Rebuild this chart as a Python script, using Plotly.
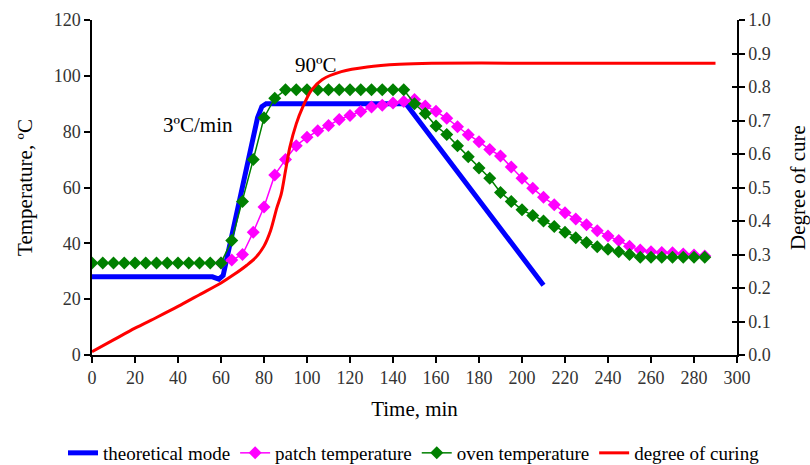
import plotly.graph_objects as go

# ---- data ----
theory_t = [0, 56, 59, 61, 77, 79, 81, 146, 210]
theory_T = [28, 28, 27.2, 28.5, 85, 89, 90, 90, 25]

oven_t = list(range(0, 295, 5))
oven_T = [33] * 13 + [41, 55, 70, 85, 92] + [95] * 12 + [
    90, 86.5, 82, 79, 75, 71, 67, 63.3, 58.2, 55, 52, 50, 48, 46, 44, 42,
    40.3, 38.8, 37.9, 37, 36, 35] + [35] * 6

patch_t = list(range(60, 290, 5))
patch_T = [33, 34, 36, 44, 53, 64.5, 70, 75, 78, 80.3, 82.2, 84.4, 85.8, 87.2,
           88.8, 89.5, 90.3, 90.8, 91.5, 89.2, 87.3, 84.8, 81.8, 78.9, 76.4,
           73.6, 71.3, 67.3, 63.3, 59.7, 56.5, 53.8, 51, 48.7, 46.7, 44.5,
           42.6, 41, 39, 37.6, 37, 36.7, 36.6, 36.2, 35.8, 35.5]

cure_t = [0, 10, 20, 30, 40, 50, 60, 66, 72, 76, 80, 83, 86, 88, 90, 92, 95,
          98, 102, 107, 116, 128, 143, 158, 200, 250, 290]
cure_v = [0.01, 0.045, 0.08, 0.112, 0.145, 0.18, 0.215, 0.24, 0.268, 0.29,
          0.325, 0.37, 0.44, 0.48, 0.55, 0.62, 0.69, 0.74, 0.79, 0.822, 0.846,
          0.86, 0.868, 0.871, 0.871, 0.871, 0.871]

x_ticks = list(range(0, 301, 20))
y_ticks = list(range(0, 121, 20))
y2_ticks = [i / 10 for i in range(11)]

FONT = "Liberation Serif"
TICKCOL = "#333333"

fig = go.Figure()
fig.add_trace(go.Scatter(x=theory_t, y=theory_T, mode="lines",
                         name="theoretical mode",
                         line=dict(color="#0000FF", width=5)))
fig.add_trace(go.Scatter(x=patch_t, y=patch_T, mode="lines+markers",
                         name="patch temperature",
                         line=dict(color="#FF00FF", width=1.5),
                         marker=dict(symbol="diamond", size=10, color="#FF00FF")))
fig.add_trace(go.Scatter(x=oven_t, y=oven_T, mode="lines+markers",
                         name="oven temperature",
                         line=dict(color="#008000", width=1.5),
                         marker=dict(symbol="diamond", size=10, color="#008000")))
fig.add_trace(go.Scatter(x=cure_t, y=cure_v, mode="lines", yaxis="y2",
                         name="degree of curing",
                         line=dict(color="#FF0000", width=3, shape="spline",
                                   smoothing=0.8)))

fig.add_annotation(x=49.2, y=82.4, text="3ºC/min", showarrow=False,
                   font=dict(family=FONT, size=21, color="black"))
fig.add_annotation(x=104.4, y=103.9, text="90ºC", showarrow=False,
                   font=dict(family=FONT, size=21, color="black"))

axis_common = dict(showgrid=False, zeroline=False, showline=True,
                   linecolor="black", linewidth=1.5, ticks="outside",
                   tickcolor="black", tickwidth=1.5, ticklen=6,
                   tickfont=dict(family=FONT, size=18, color=TICKCOL))

fig.update_layout(
    width=810, height=465,
    margin=dict(l=92, r=73, t=20, b=110, autoexpand=False),
    plot_bgcolor="white", paper_bgcolor="white",
    font=dict(family=FONT, color="black"),
    xaxis=dict(range=[0, 300], tickvals=x_ticks,
               title=dict(text="Time, min", font=dict(family=FONT, size=21),
                          standoff=14),
               **axis_common),
    yaxis=dict(range=[0, 120], tickvals=y_ticks,
               title=dict(text="Temperature, ºC",
                          font=dict(family=FONT, size=21), standoff=15),
               **axis_common),
    yaxis2=dict(range=[0, 1], tickvals=y2_ticks, tickformat=".1f",
                overlaying="y", side="right",
                title=dict(text="Degree of cure",
                           font=dict(family=FONT, size=21), standoff=20),
                **axis_common),
    yaxis3=dict(range=[0, 1], tickvals=y2_ticks, overlaying="y", side="right",
                showgrid=False, zeroline=False, showline=False,
                ticks="inside", ticklen=5, tickwidth=1.5, tickcolor="black",
                showticklabels=False),
    legend=dict(orientation="h", x=-0.045, xanchor="left", y=-0.2925,
                yanchor="middle",
                font=dict(family=FONT, size=19, color="black"),
                itemwidth=30, tracegroupgap=0),
    showlegend=True,
)
fig.add_trace(go.Scatter(x=[0], y=[0], yaxis="y3", mode="markers",
                         marker=dict(opacity=0), showlegend=False,
                         hoverinfo="skip"))

fig.write_html("out.html")
